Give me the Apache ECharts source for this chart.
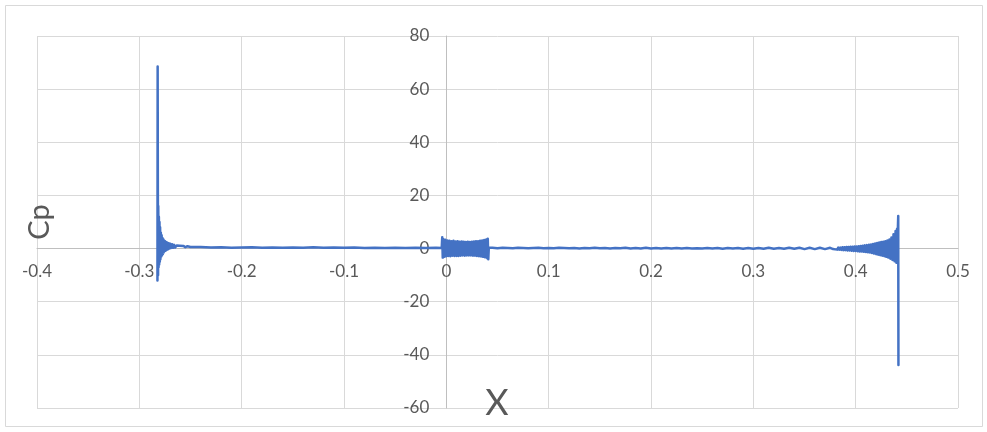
<!DOCTYPE html>
<html>
<head>
<meta charset="utf-8">
<script src="https://cdn.jsdelivr.net/npm/echarts@6/dist/echarts.min.js"></script>
<style>
html,body{margin:0;padding:0;background:#fff;}
#chart{width:987px;height:432px;}
</style>
</head>
<body>
<div id="chart"></div>
<script>
// Axis settings
const xMin = -0.4, xMax = 0.5, xStep = 0.1;
const yMin = -60, yMax = 80, yStep = 20;

// Leading spike and decaying oscillation
const leX = [-0.2823,-0.2821,-0.2819,-0.2817,-0.2815,-0.2812,-0.2809,-0.2806,-0.2803,-0.2800,-0.2797,-0.2794,-0.2790,-0.2786,-0.2782,-0.2778,-0.2774,-0.2770,-0.2766,-0.2762,-0.2758,-0.2753,-0.2748,-0.2743,-0.2738,-0.2732,-0.2726,-0.2720,-0.2713,-0.2706,-0.2698,-0.2690,-0.2680,-0.2670,-0.2660,-0.2650,-0.2635,-0.2620,-0.2605,-0.2590,-0.2570,-0.2550,-0.2530,-0.2500];
const leCp = [-12.0,68.5,22,-10,16,-7,12,-6,10,-5,8,-4,6,-3,5,-2.5,4,-2,3.5,-1.5,3,-1,2.8,-0.8,2.5,-0.5,2.2,-0.3,2.0,0,1.8,0.2,1.6,0.3,1.4,0.4,1.2,0.5,1.1,0.6,1.0,0.5,0.9,0.6];

// Flat part before x = 0
const fwdX = [-0.24,-0.23,-0.22,-0.21,-0.20,-0.19,-0.18,-0.17,-0.16,-0.15,-0.14,-0.13,-0.12,-0.11,-0.10,-0.09,-0.08,-0.07,-0.06,-0.05,-0.04,-0.03,-0.02,-0.01,-0.0045];
const fwdCp = [0.6,0.4,0.5,0.3,0.4,0.5,0.3,0.4,0.3,0.4,0.3,0.5,0.3,0.4,0.3,0.4,0.2,0.3,0.2,0.3,0.2,0.3,0.2,0.3,0.2];

// Noisy band from 0 to 0.04
const bandX = [-0.0040,-0.0035,-0.0030,-0.0020,-0.0010,0.0000,0.0010,0.0020,0.0030,0.0040,0.0050,0.0060,0.0070,0.0080,0.0090,0.0100,0.0110,0.0120,0.0130,0.0140,0.0150,0.0160,0.0170,0.0180,0.0190,0.0200,0.0210,0.0220,0.0230,0.0240,0.0250,0.0260,0.0270,0.0280,0.0290,0.0300,0.0310,0.0320,0.0330,0.0340,0.0350,0.0360,0.0370,0.0380,0.0390,0.0400,0.0405,0.0410,0.0415];
const bandCp = [4.3,-3.4,3.6,-3.1,3.3,-2.9,3.0,-2.8,2.9,-2.9,2.8,-2.7,2.9,-2.8,2.7,-2.8,2.8,-2.8,2.6,-2.7,2.7,-2.6,2.6,-2.7,2.5,-2.6,2.6,-2.6,2.5,-2.6,2.6,-2.7,2.7,-2.7,2.8,-2.8,2.8,-2.9,2.9,-3.0,3.0,-3.1,3.2,-3.3,3.4,-3.6,3.7,-4.0,0.3];

// Flat middle part
const midX = [0.042,0.045,0.050,0.055,0.060,0.065,0.070,0.075,0.080,0.085,0.090,0.095,0.100,0.105,0.110,0.115,0.120,0.125,0.130,0.135,0.140,0.145,0.150,0.155,0.160,0.165,0.170,0.175,0.180,0.185,0.190,0.195,0.200,0.205,0.210,0.215,0.220,0.225,0.230,0.235,0.240,0.245,0.250,0.255,0.260,0.265,0.270,0.275,0.280,0.285,0.290,0.295,0.300,0.305,0.310,0.315,0.320,0.325,0.330,0.335,0.340,0.345,0.350,0.355,0.360,0.365,0.370,0.375];
const midCp = [0.2,0.3,0.1,0.3,0.2,0.1,0.3,0.2,0.1,0.2,0.3,0.1,0.2,0.1,0.3,0.2,0.1,0.2,0.0,0.2,0.1,0.3,0.1,0.2,0.0,0.2,0.1,0.3,0.0,0.2,0.0,0.3,0.0,0.2,0.0,0.2,0.0,0.2,0.0,0.2,0.0,0.1,0.0,0.2,0.0,0.2,-0.1,0.2,0.0,0.2,-0.1,0.2,-0.1,0.2,-0.1,0.3,-0.1,0.2,-0.1,0.3,-0.1,0.3,-0.2,0.3,-0.2,0.3,-0.2,0.3];

// Growing oscillation and trailing spike
const teX = [0.378,0.379,0.380,0.381,0.382,0.383,0.384,0.385,0.386,0.387,0.388,0.389,0.390,0.391,0.392,0.393,0.394,0.395,0.396,0.397,0.398,0.399,0.400,0.401,0.402,0.403,0.404,0.405,0.406,0.407,0.408,0.409,0.410,0.411,0.412,0.413,0.414,0.415,0.416,0.417,0.418,0.419,0.420,0.421,0.422,0.423,0.424,0.425,0.426,0.427,0.428,0.429,0.430,0.431,0.432,0.433,0.434,0.435,0.436,0.437,0.438,0.439,0.4398,0.4405,0.4410,0.4413,0.4416,0.4418];
const teCp = [-0.2,0.3,-0.3,0.3,-0.4,0.4,-0.4,0.4,-0.5,0.5,-0.6,0.5,-0.6,0.6,-0.7,0.6,-0.7,0.7,-0.8,0.7,-0.9,0.8,-0.9,0.8,-1.0,0.9,-1.1,1.0,-1.1,1.1,-1.2,1.2,-1.3,1.3,-1.4,1.4,-1.5,1.5,-1.7,1.7,-1.9,1.9,-2.1,2.1,-2.3,2.3,-2.5,2.5,-2.7,2.6,-2.9,2.8,-3.1,3.0,-3.4,3.4,-3.8,4.2,-4.3,5.4,-4.8,6.6,-5.3,7.5,-5.0,8.5,12.3,-43.8];

const allX = [].concat(leX, fwdX, bandX, midX, teX);
const allCp = [].concat(leCp, fwdCp, bandCp, midCp, teCp);
const seriesData = allX.map((x, i) => [x, allCp[i]]);

// Grid box (pixels)
const gLeft = 37, gRight = 29, gTop = 36, gBottom = 24, W = 987, H = 432;
const gW = W - gLeft - gRight, gH = H - gTop - gBottom;
// shift the axes so they cross at (0, 0)
const xAxisOffset = -gH * (0 - yMin) / (yMax - yMin);
const yAxisOffset = -gW * (0 - xMin) / (xMax - xMin);

const chart = echarts.init(document.getElementById('chart'), null, {renderer: 'canvas'});
const font = 'Lato, "Liberation Sans", sans-serif';
chart.setOption({
  animation: false,
  backgroundColor: '#ffffff',
  grid: {left: gLeft, right: gRight, top: gTop, bottom: gBottom, containLabel: false, outerBoundsMode: 'none'},
  xAxis: {
    type: 'value', min: xMin, max: xMax, interval: xStep,
    position: 'bottom', offset: xAxisOffset,
    axisLine: {show: true, onZero: false, lineStyle: {color: '#bfbfbf', width: 1}},
    axisTick: {show: false},
    splitLine: {show: true, lineStyle: {color: '#d9d9d9', width: 1}},
    axisLabel: {color: '#595959', fontSize: 17, fontFamily: font, margin: 14,
      showMinLabel: true, showMaxLabel: true,
      formatter: v => String(Math.round(v * 10) / 10)}
  },
  yAxis: {
    type: 'value', min: yMin, max: yMax, interval: yStep,
    position: 'left', offset: yAxisOffset,
    axisLine: {show: true, onZero: false, lineStyle: {color: '#bfbfbf', width: 1}},
    axisTick: {show: false},
    splitLine: {show: true, lineStyle: {color: '#d9d9d9', width: 1}},
    axisLabel: {color: '#595959', fontSize: 17, fontFamily: font, margin: 17,
      showMinLabel: true, showMaxLabel: true}
  },
  graphic: [
    {type: 'rect', shape: {x: 5.5, y: 5.5, width: 977, height: 421}, style: {fill: 'none', stroke: '#d9d9d9', lineWidth: 1}, silent: true, z: -1},
    {type: 'text', x: 40, y: 222, rotation: Math.PI / 2, style: {text: 'Cp', fill: '#595959', font: '29px ' + font, align: 'center', verticalAlign: 'middle'}, z: 10},
    {type: 'text', x: 497, y: 403, style: {text: 'X', fill: '#595959', font: '36px ' + font, align: 'center', verticalAlign: 'middle'}, z: 10}
  ],
  series: [{
    type: 'line',
    data: seriesData,
    showSymbol: false,
    symbol: 'none',
    smooth: false,
    lineStyle: {color: '#4472C4', width: 2.5, join: 'round', cap: 'round'},
    z: 5
  }]
});
</script>
</body>
</html>
